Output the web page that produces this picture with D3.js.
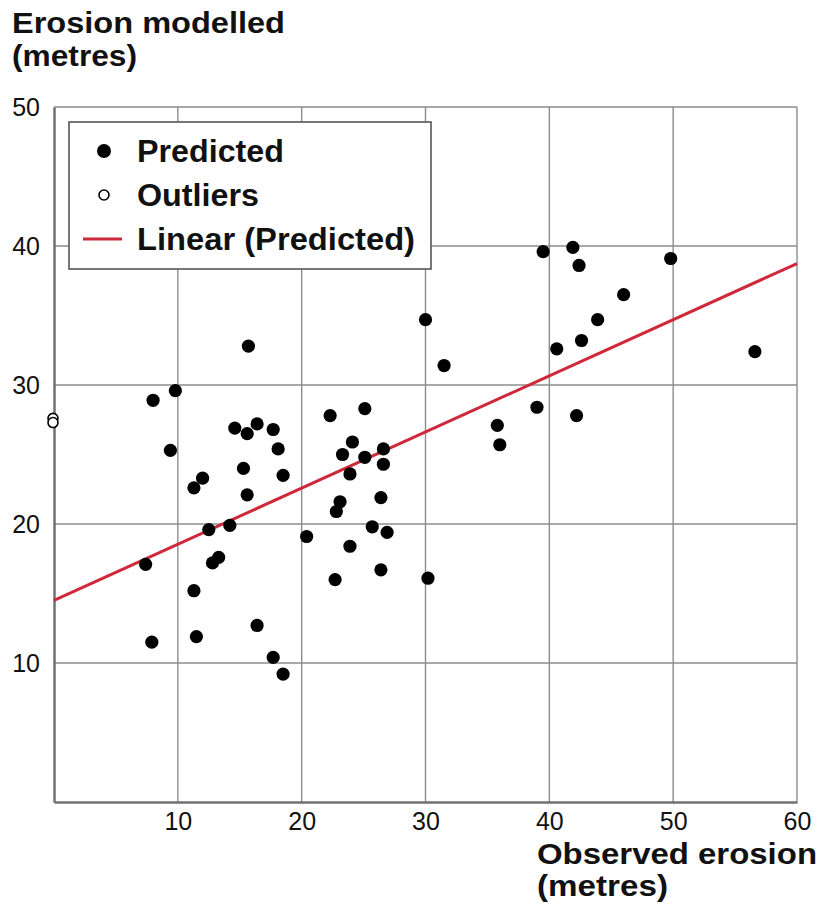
<!DOCTYPE html>
<html>
<head>
<meta charset="utf-8">
<script src="https://cdn.jsdelivr.net/npm/d3@7"></script>
<style>
	body { margin: 0; background: #fff; }
	text { font-family: "Liberation Sans", Arial, sans-serif; fill: #111; }
</style>
</head>
<body>
<svg id="chart" width="821" height="912"></svg>
<script>

// observed erosion (x) and modelled erosion (y)
var predictedX = [7.4, 8.0, 9.8, 9.4, 7.9, 15.7, 11.3, 12.0, 12.5, 12.8, 13.3, 14.2,
	11.3, 11.5, 14.6, 15.6, 16.4, 15.3, 15.6, 17.7, 18.1, 18.5, 16.4, 17.7, 18.5,
	20.4, 22.3, 25.1, 24.1, 23.3, 23.9, 25.1, 26.6, 26.6, 23.1, 22.8, 26.4, 23.9,
	25.7, 26.9, 22.7, 26.4, 30.2, 30.0, 31.5, 35.8, 36.0, 39.0, 39.5, 41.9, 42.4,
	40.6, 42.6, 43.9, 46.0, 49.8, 42.2, 56.6];
var predictedY = [17.1, 28.9, 29.6, 25.3, 11.5, 32.8, 22.6, 23.3, 19.6, 17.2, 17.6, 19.9,
	15.2, 11.9, 26.9, 26.5, 27.2, 24.0, 22.1, 26.8, 25.4, 23.5, 12.7, 10.4, 9.2,
	19.1, 27.8, 28.3, 25.9, 25.0, 23.6, 24.8, 25.4, 24.3, 21.6, 20.9, 21.9, 18.4,
	19.8, 19.4, 16.0, 16.7, 16.1, 34.7, 31.4, 27.1, 25.7, 28.4, 39.6, 39.9, 38.6,
	32.6, 33.2, 34.7, 36.5, 39.1, 27.8, 32.4];

var outlierX = [0, 0];
var outlierY = [27.6, 27.3];

// trend line "Linear (Predicted)"
var trendIntercept = 14.5;
var trendSlope = 0.404;

var xTicks = [10, 20, 30, 40, 50, 60];
var yTicks = [10, 20, 30, 40, 50];
var legendLabels = ["Predicted", "Outliers", "Linear (Predicted)"];

var RED = "#d0283b";

var svg = d3.select("#chart");

var x = d3.scaleLinear().domain([0, 60]).range([54, 797]);
var y = d3.scaleLinear().domain([0, 50]).range([802, 107]);

// grid
svg.append("g")
	.selectAll("line.v")
	.data(xTicks)
	.enter().append("line")
	.attr("x1", function(d) { return x(d); })
	.attr("x2", function(d) { return x(d); })
	.attr("y1", y(0))
	.attr("y2", y(50))
	.style("stroke", "#8c8c8c")
	.style("stroke-width", 1.4);

svg.append("g")
	.selectAll("line.h")
	.data(yTicks)
	.enter().append("line")
	.attr("x1", x(0))
	.attr("x2", x(60))
	.attr("y1", function(d) { return y(d); })
	.attr("y2", function(d) { return y(d); })
	.style("stroke", "#8c8c8c")
	.style("stroke-width", 1.4);

// axes
var xAxis = d3.axisBottom(x).tickValues(xTicks).tickSize(0).tickPadding(10);
var yAxis = d3.axisLeft(y).tickValues(yTicks).tickSize(0).tickPadding(14);

var gx = svg.append("g").attr("transform", "translate(0," + y(0) + ")").call(xAxis);
var gy = svg.append("g").attr("transform", "translate(" + x(0) + ",0)").call(yAxis);

[gx, gy].forEach(function(g) {
	g.select(".domain").style("stroke", "#707070").style("stroke-width", 2.5);
	g.selectAll("text")
		.style("font-family", "'Liberation Sans', Arial, sans-serif")
		.style("font-size", "25px")
		.style("fill", "#111");
});
gx.selectAll("text").attr("dy", "0.71em");
gy.selectAll("text").attr("dy", "0.35em");

// trend line
svg.append("line")
	.attr("x1", x(0))
	.attr("y1", y(trendIntercept))
	.attr("x2", x(60))
	.attr("y2", y(trendIntercept + trendSlope * 60))
	.style("stroke", RED)
	.style("stroke-width", 3);

// points
svg.append("g")
	.selectAll("circle")
	.data(d3.range(predictedX.length))
	.enter().append("circle")
	.attr("cx", function(i) { return x(predictedX[i]); })
	.attr("cy", function(i) { return y(predictedY[i]); })
	.attr("r", 6.6)
	.style("fill", "#000");

svg.append("g")
	.selectAll("circle")
	.data(d3.range(outlierX.length))
	.enter().append("circle")
	.attr("cx", function(i) { return x(outlierX[i]) - 1; })
	.attr("cy", function(i) { return y(outlierY[i]); })
	.attr("r", 5)
	.style("fill", "#fff")
	.style("stroke", "#000")
	.style("stroke-width", 1.6);

// legend
var legend = svg.append("g");

legend.append("rect")
	.attr("x", 69)
	.attr("y", 122)
	.attr("width", 362)
	.attr("height", 147)
	.style("fill", "#fff")
	.style("stroke", "#555")
	.style("stroke-width", 1.6);

var rowY = [151, 195, 239];
var textWidths = [147, 122, 278];

legend.selectAll("text")
	.data(legendLabels)
	.enter().append("text")
	.attr("x", 137)
	.attr("y", function(d, i) { return rowY[i]; })
	.attr("dy", "0.36em")
	.attr("textLength", function(d, i) { return textWidths[i]; })
	.attr("lengthAdjust", "spacingAndGlyphs")
	.style("font-size", "31px")
	.style("font-weight", "bold")
	.text(function(d) { return d; });

legend.append("circle")
	.attr("cx", 104).attr("cy", rowY[0]).attr("r", 7)
	.style("fill", "#000");

legend.append("circle")
	.attr("cx", 104).attr("cy", rowY[1]).attr("r", 5)
	.style("fill", "#fff").style("stroke", "#000").style("stroke-width", 1.6);

legend.append("line")
	.attr("x1", 83).attr("x2", 122)
	.attr("y1", rowY[2]).attr("y2", rowY[2])
	.style("stroke", RED).style("stroke-width", 3);

// axis titles
function boldLabel(tx, ty, str, width) {
	svg.append("text")
		.attr("x", tx)
		.attr("y", ty)
		.attr("textLength", width)
		.attr("lengthAdjust", "spacingAndGlyphs")
		.style("font-size", "29px")
		.style("font-weight", "bold")
		.text(str);
}

boldLabel(12, 33, "Erosion modelled", 273);
boldLabel(12, 66, "(metres)", 125);
boldLabel(537, 864, "Observed erosion", 280);
boldLabel(537, 896, "(metres)", 131);

</script>
</body>
</html>
